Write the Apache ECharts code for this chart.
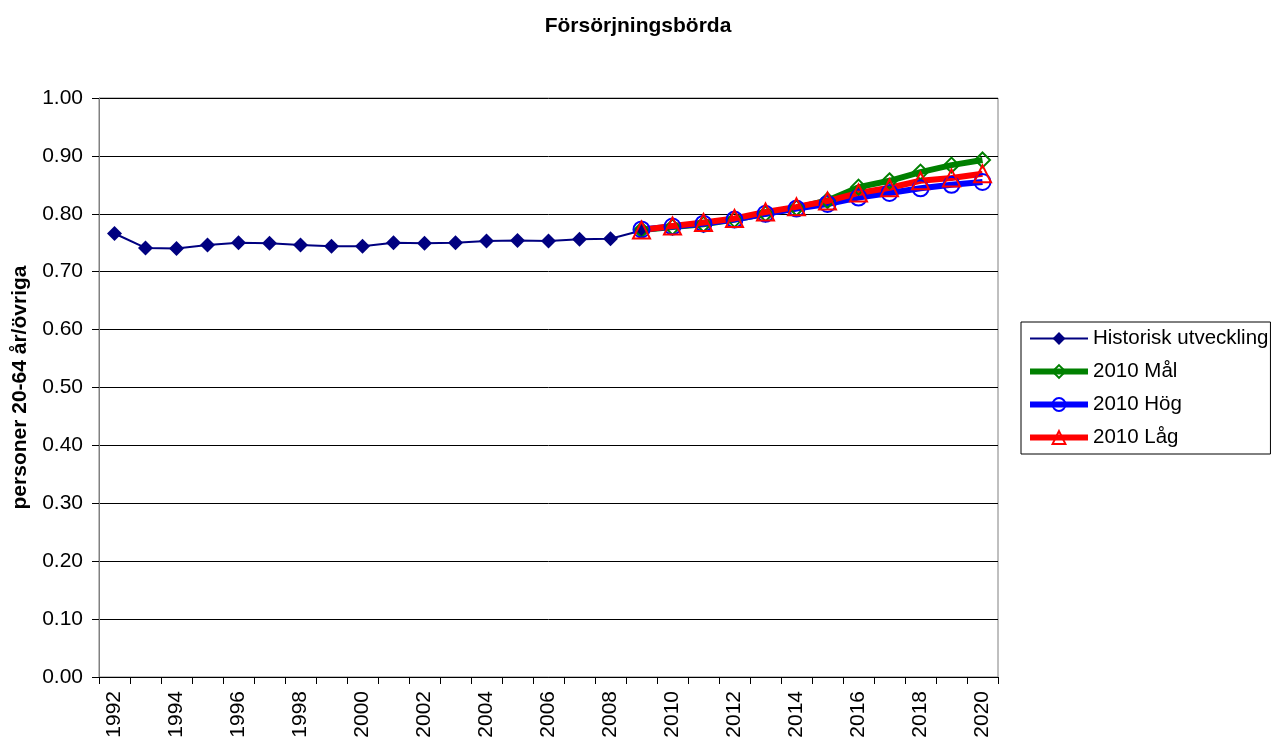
<!DOCTYPE html>
<html>
<head>
<meta charset="utf-8">
<script src="https://cdn.jsdelivr.net/npm/echarts@6/dist/echarts.min.js"></script>
<style>html,body{margin:0;padding:0;background:#fff;}#c{width:1274px;height:738px;}</style>
</head>
<body>
<div id="c"></div>
<script>
const years = ['1992','1993','1994','1995','1996','1997','1998','1999','2000','2001','2002','2003','2004','2005','2006','2007','2008','2009','2010','2011','2012','2013','2014','2015','2016','2017','2018','2019','2020'];
const yTicks = [0,0.1,0.2,0.3,0.4,0.5,0.6,0.7,0.8,0.9,1.0];
// Historisk utveckling 1992–2009
const historisk = [0.766,0.741,0.740,0.746,0.750,0.749,0.746,0.744,0.744,0.750,0.749,0.750,0.753,0.754,0.753,0.756,0.757,0.771];
// Projections 2009–2020
const mal = [0.772,0.777,0.782,0.790,0.800,0.810,0.823,0.846,0.857,0.872,0.884,0.893];
const hog = [0.773,0.778,0.783,0.790,0.800,0.809,0.817,0.828,0.836,0.844,0.850,0.855];
const lag = [0.772,0.779,0.785,0.792,0.803,0.812,0.822,0.836,0.845,0.857,0.862,0.869];
const names = ['Historisk utveckling','2010 Mål','2010 Hög','2010 Låg'];
const title = 'Försörjningsbörda';
const yName = 'personer 20-64 år/övriga';

function pad(arr){ const n = years.length - arr.length; return new Array(n).fill(null).concat(arr); }
function padEnd(arr){ return arr.concat(new Array(years.length - arr.length).fill(null)); }

const font = 'Liberation Sans, Arial, sans-serif';
const chart = echarts.init(document.getElementById('c'), null, {renderer:'canvas'});
function proj(name, data, color, symbol, size){
  return {
    name, type:'line', data: pad(data), symbol, symbolSize: size,
    showAllSymbol:true, connectNulls:false,
    lineStyle:{color, width:6},
    itemStyle:{color:'rgba(255,255,255,0)', borderColor:color, borderWidth:2},
    emphasis:{disabled:true}, animation:false
  };
}
chart.setOption({
  animation:false,
  backgroundColor:'#fff',
  title:{text:title, left:633, textAlign:'center', top:11,
    textStyle:{fontFamily:font, fontSize:21, fontWeight:'bold', color:'#000'}},
  grid:{left:99, right:276, top:98, bottom:61, outerBoundsMode:'none', containLabel:false,
    show:true, borderColor:'#808080', borderWidth:1, backgroundColor:'rgba(0,0,0,0)'},
  legend:{orient:'vertical', left:1021, top:322, data:names,
    itemWidth:58, itemHeight:16, itemGap:12, itemTextGap:3, padding:[6,2,6,6],
    borderColor:'#000', borderWidth:1, backgroundColor:'#fff',
    lineStyle:{width:'inherit'},
    textStyle:{fontFamily:font, fontSize:20.5, color:'#000'}},
  xAxis:{type:'category', data:years, boundaryGap:true,
    axisLine:{lineStyle:{color:'#000', width:1}},
    axisTick:{show:true, interval:0, length:7, lineStyle:{color:'#000'}},
    axisLabel:{interval:1, rotate:90, margin:14, fontFamily:font, fontSize:21, color:'#000'},
    splitLine:{show:false}},
  yAxis:{type:'value', min:0, max:1, interval:0.1,
    name:yName, nameLocation:'middle', nameGap:68,
    nameTextStyle:{fontFamily:font, fontSize:21, fontWeight:'bold', color:'#000'},
    axisLine:{show:true, lineStyle:{color:'#808080'}},
    axisTick:{show:true, length:7, lineStyle:{color:'#000'}},
    axisLabel:{formatter:v=>v.toFixed(2), margin:16, fontFamily:font, fontSize:21, color:'#000'},
    splitLine:{show:true, lineStyle:{color:'#000', width:1}}},
  series:[
    {name:names[0], type:'line', data:padEnd(historisk), symbol:'diamond', symbolSize:15,
     lineStyle:{color:'#000080', width:2}, itemStyle:{color:'#000080'}, emphasis:{disabled:true}},
    proj(names[1], mal, '#008000', 'diamond', 15),
    proj(names[2], hog, '#0000FF', 'circle', 16),
    proj(names[3], lag, '#FF0000', 'triangle', 17)
  ]
});
</script>
</body>
</html>
